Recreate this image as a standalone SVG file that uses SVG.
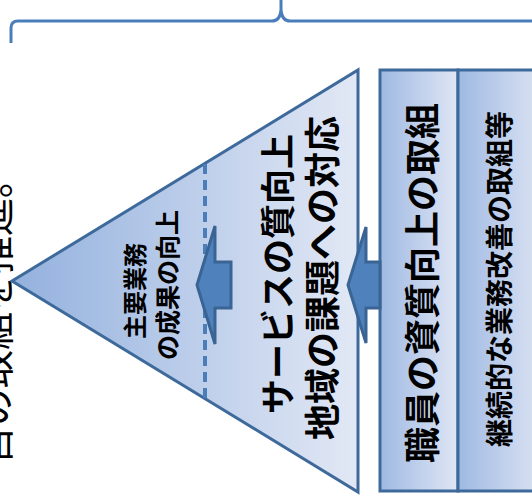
<svg xmlns="http://www.w3.org/2000/svg" width="532" height="497" viewBox="0 0 532 497">
<defs>
<linearGradient id="gTri" x1="0" y1="0" x2="1" y2="0">
<stop offset="0" stop-color="#93b1de"/>
<stop offset="1" stop-color="#e2e8f5"/>
</linearGradient>
<linearGradient id="gBox" x1="0" y1="0" x2="1" y2="0">
<stop offset="0" stop-color="#9fb9e3"/>
<stop offset="1" stop-color="#e0e6f4"/>
</linearGradient>
</defs>
<style>
.shape{stroke:#3e6a9b;stroke-width:3;stroke-linejoin:miter}
.arrow{fill:#4f81bd;stroke:#3a6493;stroke-width:3;stroke-linejoin:miter}
.t{font-family:"Noto Sans CJK JP","Noto Sans",sans-serif;font-weight:bold;fill:#000;text-anchor:middle;dominant-baseline:central}
.note{font-family:"Noto Sans CJK JP","Noto Sans",sans-serif;font-weight:normal;fill:#000;text-anchor:middle}
</style>
<rect width="532" height="497" fill="#ffffff"/>

<g id="brace">
<path d="M11 43 L11 28 Q11 21 18 21 L272 21 Q280 21 281 10 L281 -2 M281 10 Q282 21 290 21 L540 21" fill="none" stroke="#4a7ebb" stroke-width="3"/>
</g>

<g id="note">
<text class="note" font-size="38" transform="translate(8.5,312) rotate(-90)">目の取組を推進。</text>
</g>

<g id="triangle">
<polygon class="shape" points="12,281 358,70 358,492" fill="url(#gTri)"/>
<line x1="205" y1="164" x2="205" y2="398" stroke="#4a7ebb" stroke-width="4" stroke-dasharray="10,6"/>
<text class="t" font-size="35" transform="translate(275,274) rotate(-90)">サービスの質向上</text>
<text class="t" font-size="36" transform="translate(320,278) rotate(-90)">地域の課題への対応</text>
<text class="t" font-size="24" transform="translate(133,291) rotate(-90)">主要業務</text>
<text class="t" font-size="25" transform="translate(166,285) rotate(-90)">の成果の向上</text>
</g>

<g id="box1">
<rect class="shape" x="380" y="70" width="78" height="421" fill="url(#gBox)"/>
<text class="t" font-size="36" transform="translate(420,283) rotate(-90)">職員の資質向上の取組</text>
</g>

<g id="box2">
<rect class="shape" x="458" y="70" width="90" height="421" fill="url(#gBox)"/>
<text class="t" font-size="28" transform="translate(498,279) rotate(-90)">継続的な業務改善の取組等</text>
</g>

<g id="connectors">
<polygon class="arrow" points="197,285 215,226 215,262 231,262 231,308 215,308 215,344"/>
<polygon class="arrow" points="348,285 366,227 366,262 380,262 380,308 366,308 366,343"/>
</g>
</svg>
